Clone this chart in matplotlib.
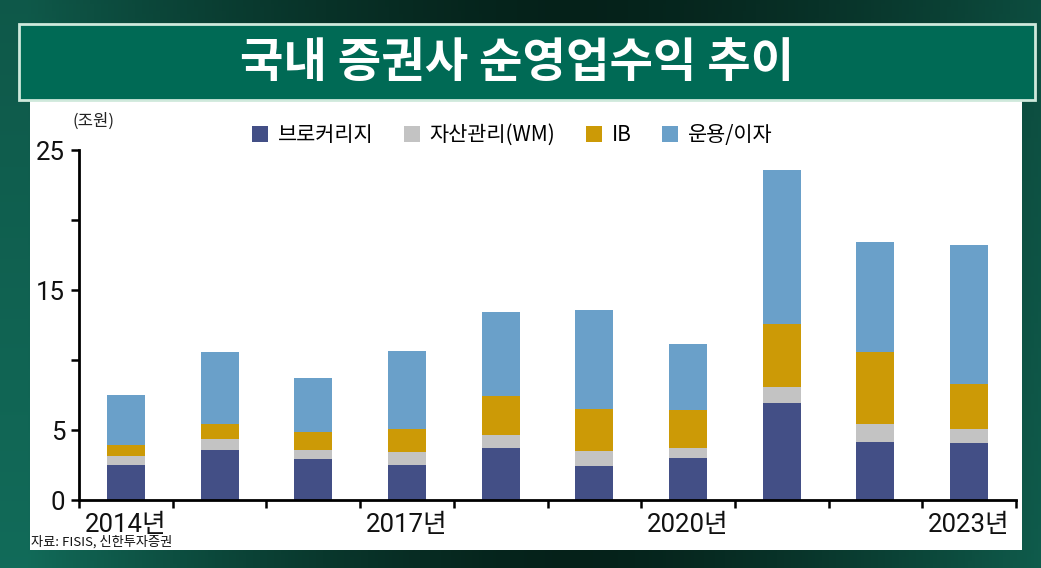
import matplotlib
matplotlib.use("Agg")
import matplotlib.pyplot as plt
import numpy as np
from matplotlib.patches import Rectangle

plt.rcParams['font.family'] = ['Noto Sans CJK KR', 'DejaVu Sans']

# data (조원)
years = [2014, 2015, 2016, 2017, 2018, 2019, 2020, 2021, 2022, 2023]
brokerage = [2.5, 3.6, 2.9, 2.5, 3.7, 2.45, 3.0, 6.9, 4.15, 4.1]
wm = [0.65, 0.75, 0.7, 0.95, 0.95, 1.05, 0.7, 1.2, 1.25, 1.0]
ib = [0.75, 1.1, 1.25, 1.6, 2.8, 3.0, 2.75, 4.5, 5.2, 3.2]
trading = [3.6, 5.1, 3.9, 5.6, 6.0, 7.1, 4.7, 10.95, 7.8, 9.95]
series_names = ['브로커리지', '자산관리(WM)', 'IB', '운용/이자']
series_colors = ['#434f86', '#c3c3c3', '#cc9a06', '#6aa0c9']
labeled_years = [2014, 2017, 2020, 2023]

W, H = 1041, 568
fig = plt.figure(figsize=(W / 100, H / 100), dpi=100)

# dark green background
bg = fig.add_axes([0, 0, 1, 1], zorder=-10)
bg.axis('off')
gx = np.linspace(0, 1, 300)
gy = np.linspace(0, 1, 160)
X, Y = np.meshgrid(gx, gy)
edge = np.clip(np.abs(X - 0.55) * 1.9, 0, 1) ** 1.5
dark = np.array([0.02, 0.13, 0.10])
teal = np.array([0.07, 0.42, 0.35])
img = dark + (teal - dark) * edge[..., None] * (0.75 + 0.25 * Y[..., None])
bg.imshow(img, extent=[0, 1, 0, 1], aspect='auto')
bg.set_xlim(0, 1)
bg.set_ylim(0, 1)

# white panel
fig.patches.append(Rectangle((30 / W, 1 - 550 / H), 992 / W, 450 / H,
                             transform=fig.transFigure, facecolor='white',
                             edgecolor='none', zorder=-5))
# title banner
fig.patches.append(Rectangle((19 / W, 1 - 100 / H), 1016 / W, 76 / H,
                             transform=fig.transFigure, facecolor='#006a55',
                             edgecolor='#cfe9dc', linewidth=2, zorder=-4))
fig.text(517 / W, 1 - 63 / H, '국내 증권사 순영업수익 추이', color='white',
         fontsize=34, fontweight='bold', ha='center', va='center')

ax = fig.add_axes([79 / W, 1 - 500 / H, 937 / W, 350 / H])
ax.set_facecolor('none')
x = np.arange(len(years))
bottom = np.zeros(len(years))
for vals, name, col in zip([brokerage, wm, ib, trading], series_names, series_colors):
    ax.bar(x, vals, 0.405, bottom=bottom, color=col, label=name, zorder=2)
    bottom += np.array(vals)

ax.set_xlim(-0.5, len(years) - 0.5)
ax.set_ylim(0, 25)
ax.set_yticks([0, 5, 10, 15, 20, 25])
ax.set_yticklabels(['0', '5', '', '15', '', '25'])
ax.set_xticks(np.arange(-0.5, len(years), 1.0))
ax.set_xticklabels([])
ax.set_xticks([years.index(y) for y in labeled_years], minor=True)
ax.set_xticklabels([f'{y}년' for y in labeled_years], minor=True)
ax.tick_params(axis='x', which='minor', length=0, pad=9)
ax.tick_params(axis='both', which='major', length=6, width=1.8, direction='out', color='black')
ax.tick_params(axis='y', pad=4)
for lab in ax.get_yticklabels() + ax.get_xticklabels(minor=True):
    lab.set_family(['Roboto', 'Noto Sans CJK KR'])
    lab.set_fontsize(18.5)
    lab.set_color('#111111')
for s in ['top', 'right']:
    ax.spines[s].set_visible(False)
for s in ['left', 'bottom']:
    ax.spines[s].set_linewidth(2)
    ax.spines[s].set_color('black')

fig.legend(loc='center', bbox_to_anchor=(512 / W, 1 - 135 / H), ncol=4,
           frameon=False, fontsize=15, handlelength=0.8, handleheight=0.8,
           handletextpad=0.45, columnspacing=1.45)

fig.text(93 / W, 1 - 121 / H, '(조원)', fontsize=12, ha='center', va='center', color='#222222')
fig.text(31 / W, 1 - 542 / H, '자료: FISIS, 신한투자증권', fontsize=9.5, ha='left', va='center', color='#111111')

fig.savefig('out.png', dpi=100)
